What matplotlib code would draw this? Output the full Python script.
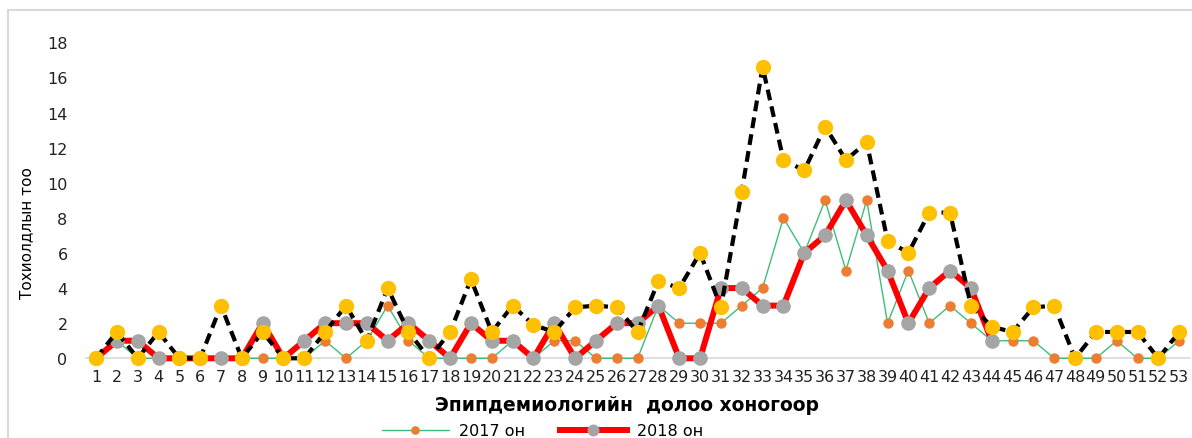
import numpy as np
import matplotlib.pyplot as plt
from matplotlib.patches import Rectangle

# 7 хоногууд
weeks = np.arange(1, 54)

# 2017 он
cases_2017 = [0, 1, 0, 0, 0, 0, 0, 0, 0, 0, 0, 1, 0, 1, 3, 1, 0, 0, 0, 0,
              1, 0, 1, 1, 0, 0, 0, 3, 2, 2, 2, 3, 4, 8, 6, 9, 5, 9, 2, 5,
              2, 3, 2, 1, 1, 1, 0, 0, 0, 1, 0, 0, 1]

# 2018 он (44 дүгээр 7 хоног хүртэл)
cases_2018 = [0, 1, 1, 0, 0, 0, 0, 0, 2, 0, 1, 2, 2, 2, 1, 2, 1, 0, 2, 1,
              1, 0, 2, 0, 1, 2, 2, 3, 0, 0, 4, 4, 3, 3, 6, 7, 9, 7, 5, 2,
              4, 5, 4, 1]

# гурав дахь цуваа (тайлбар нь зургаас тасарсан)
cases_3 = [0, 1.5, 0, 1.5, 0, 0, 3, 0, 1.5, 0, 0, 1.5, 3, 1, 4, 1.5, 0, 1.5, 4.5, 1.5,
           3, 1.9, 1.5, 2.9, 3.0, 2.9, 1.5, 4.4, 4.0, 6.0, 2.9, 9.5, 16.6, 11.3, 10.7, 13.2, 11.3, 12.3, 6.7, 6.0,
           8.3, 8.3, 3.0, 1.8, 1.5, 2.9, 3.0, 0, 1.5, 1.5, 1.5, 0, 1.5]

W, H = 1192, 439
fig = plt.figure(figsize=(W / 100, H / 100), dpi=100)
ax = fig.add_axes([85.6 / W, 1 - 359.3 / H, (1189.6 - 85.6) / W, (359.3 - 43.3) / H])

ax.plot(weeks, cases_2017, color='#3DBE78', lw=1, marker='o', ms=6.5,
        mfc='#ED7D31', mec='#ED7D31', label='2017 он', zorder=3, clip_on=False)
ax.plot(weeks[:len(cases_2018)], cases_2018, color='#FF0000', lw=4.3, marker='o', ms=9.5,
        mfc='#A5A5A5', mec='#A5A5A5', label='2018 он', zorder=4, clip_on=False)
l3, = ax.plot(weeks, cases_3, color='black', lw=3, ls='--', marker='o', ms=10,
              mfc='#FFC000', mec='#FFC000', zorder=5, clip_on=False)
l3.set_dashes([2.6, 1.5])

ax.set_xlim(0.5, 53.5)
ax.set_ylim(0, 18)
ax.set_yticks(np.arange(0, 19, 2))
ax.set_xticks(weeks)
ax.tick_params(axis='both', length=0, labelsize=11.5, colors='#222222')
ax.tick_params(axis='y', pad=13)
ax.tick_params(axis='x', pad=8)

for s in ['top', 'right', 'left']:
    ax.spines[s].set_visible(False)
ax.spines['bottom'].set_color('#D9D9D9')
ax.spines['bottom'].set_linewidth(1.2)

ax.set_ylabel('Тохиолдлын тоо', fontsize=11)
ax.yaxis.set_label_coords(-51 / (1189.6 - 85.6), 0.4)
ax.set_xlabel('Эпипдемиологийн  долоо хоногоор', fontsize=13.5, fontweight='bold')
ax.xaxis.set_label_coords(0.49, -0.115)

fig.legend(loc='center', bbox_to_anchor=(0.455, 1 - 432 / H), ncol=2, frameon=False,
           fontsize=11.5, handlelength=4.2, columnspacing=2.2, handletextpad=0.6,
           markerscale=0.8)

fig.add_artist(Rectangle((8 / W, -0.1), 1.2, 1.1 - 11 / H, transform=fig.transFigure,
                         fill=False, edgecolor='#D9D9D9', lw=1.5))

plt.savefig('out.png', dpi=100)
